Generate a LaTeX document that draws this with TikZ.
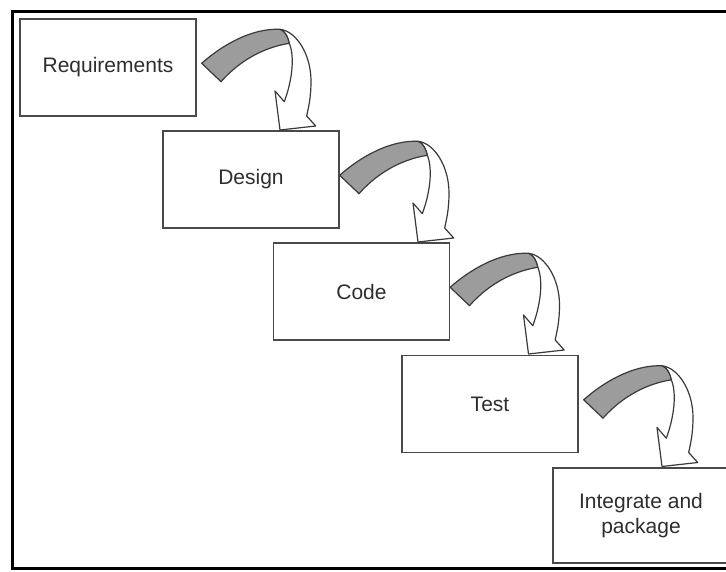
\documentclass[tikz,border=0pt]{standalone}
\usepackage{fontspec}
\setmainfont{Liberation Sans}
\definecolor{boxline}{HTML}{4A4A4A}
\definecolor{arrowline}{HTML}{3A3A3A}
\definecolor{ribbon}{HTML}{9C9C9C}
\definecolor{txt}{HTML}{2E2E2E}
\begin{document}
\begin{tikzpicture}[x=1pt,y=-1pt,
  stagebox/.style={draw=boxline, line width=1.4pt, fill=white, rectangle,
    minimum width=176pt, minimum height=97pt, outer sep=0pt, inner sep=2pt,
    align=center, text=txt, font=\fontsize{21}{25}\selectfont},
  ribbonline/.style={draw=arrowline, line width=1.2pt, line join=round},
  curlyarrow/.pic={
    \path[ribbonline, fill=white]
      (84,10.3) .. controls (100,12) and (115,35) .. (115,62)
      .. controls (115,80) and (112,90) .. (110.7,97)
      -- (119.7,107) -- (84,111) -- (79,72) -- (88.3,82.7)
      .. controls (96,62) and (99,38) .. (93.3,24.3)
      .. controls (92,18) and (89,12) .. cycle;
    \path[ribbonline, fill=ribbon]
      (5.7,44.3) .. controls (25,27) and (55,9) .. (84,10.3)
      .. controls (89,12) and (92,18) .. (93.3,24.3)
      .. controls (70,28) and (45,40) .. (25,62.7) -- cycle;
  }]
\useasboundingbox (0,0) rectangle (726,572);
\fill[white] (0,0) rectangle (726,572);

\node[stagebox] (req) at (108,67.5) {Requirements};
\node[stagebox] (des) at (251,179.5) {Design};
\node[stagebox] (cod) at (361.5,291.5) {Code};
\node[stagebox] (tst) at (490,404) {Test};
\node[stagebox, minimum height=95pt] (int) at (641,515.5) {Integrate and\\package};

\pic at (req.north east) {curlyarrow};
\pic at ([xshift=-5pt]des.north east) {curlyarrow};
\pic at ([xshift=-5pt]cod.north east) {curlyarrow};
\pic at (tst.north east) {curlyarrow};

\draw[line width=3pt, black] (727,11.5) -- (12.5,11.5) -- (12.5,568.5) -- (727,568.5);
\end{tikzpicture}
\end{document}
